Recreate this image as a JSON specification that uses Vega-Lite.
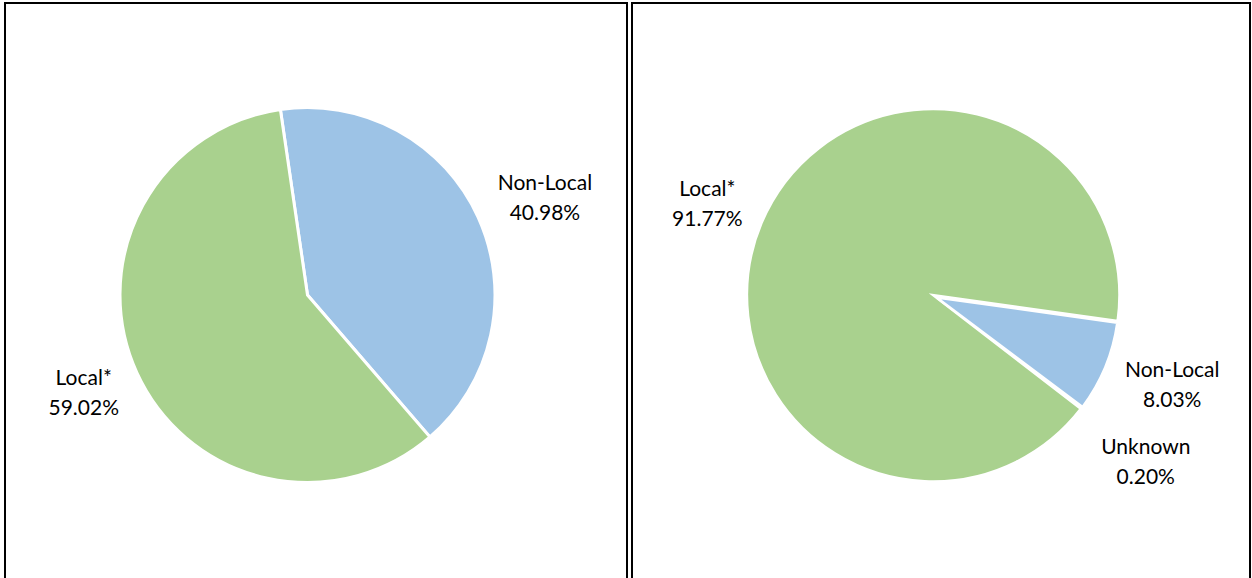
{
  "$schema": "https://vega.github.io/schema/vega-lite/v6.json",
  "background": "white",
  "padding": {"left": 4, "top": 2, "right": 0, "bottom": 0},
  "spacing": 3,
  "config": {
    "view": {"stroke": "#000000", "strokeWidth": 2},
    "style": {"view": {"stroke": "#000000", "strokeWidth": 2}},
    "text": {"font": "Lato", "fontSize": 21}
  },
  "datasets": {
    "a": [
      {"category": "Non-Local", "percent": 40.98, "order": 1, "label": "Non-Local\n40.98%"},
      {"category": "Local*", "percent": 59.02, "order": 2, "label": "Local*\n59.02%"}
    ],
    "b": [
      {"category": "Non-Local", "percent": 8.03, "order": 1, "label": "Non-Local\n8.03%"},
      {"category": "Unknown", "percent": 0.20, "order": 2, "label": "Unknown\n0.20%"},
      {"category": "Local*", "percent": 91.77, "order": 3, "label": "Local*\n91.77%"}
    ]
  },
  "hconcat": [
    {
      "width": 622,
      "height": 582,
      "data": {"name": "a"},
      "encoding": {
        "theta": {"field": "percent", "type": "quantitative", "stack": true, "scale": {"range": [-0.145, 6.138]}},
        "order": {"field": "order", "type": "quantitative"},
        "color": {"field": "category", "type": "nominal", "legend": null,
          "scale": {"domain": ["Local*", "Non-Local", "Unknown"], "range": ["#A9D18E", "#9DC3E6", "#A5A5A5"]}}
      },
      "layer": [
        {"mark": {"type": "arc", "outerRadius": 187.5, "stroke": "white", "strokeWidth": 3, "x": 302.5, "y": 292}},
        {"mark": {"type": "text", "lineBreak": "\n", "align": "center", "baseline": "middle", "lineHeight": 30,
          "radius": {"expr": "datum.category === 'Local*' ? 246 : 261"},
          "dy": {"expr": "datum.category === 'Local*' ? -18 : -3"},
          "x": 302.5, "y": 292},
          "encoding": {"text": {"field": "label"}, "color": {"value": "#000000"}}}
      ]
    },
    {
      "width": 618,
      "height": 582,
      "data": {"name": "b"},
      "encoding": {
        "theta": {"field": "percent", "type": "quantitative", "stack": true, "scale": {"range": [1.71, 7.993]}},
        "order": {"field": "order", "type": "quantitative"},
        "color": {"field": "category", "type": "nominal", "legend": null,
          "scale": {"domain": ["Local*", "Non-Local", "Unknown"], "range": ["#A9D18E", "#9DC3E6", "#A5A5A5"]}}
      },
      "layer": [
        {"mark": {"type": "arc", "outerRadius": 186.25, "stroke": "white", "strokeWidth": 2.5, "x": 301.2, "y": 292.2},
          "encoding": {"opacity": {"condition": {"test": "datum.category === 'Non-Local'", "value": 0}, "value": 1}}},
        {"mark": {"type": "arc", "outerRadius": 182.5, "stroke": "white", "strokeWidth": 2.5, "x": 304.6, "y": 294.4},
          "encoding": {"opacity": {"condition": {"test": "datum.category === 'Non-Local'", "value": 1}, "value": 0}}},
        {"mark": {"type": "text", "lineBreak": "\n", "align": "center", "baseline": "middle", "lineHeight": 30,
          "radius": {"expr": "datum.category === 'Local*' ? 245 : (datum.category === 'Unknown' ? 267 : 258.6)"},
          "dy": {"expr": "datum.category === 'Local*' ? -10.5 : (datum.category === 'Unknown' ? -9 : -23)"},
          "x": 301.2, "y": 292.2},
          "encoding": {"text": {"field": "label"}, "color": {"value": "#000000"}}}
      ]
    }
  ]
}
